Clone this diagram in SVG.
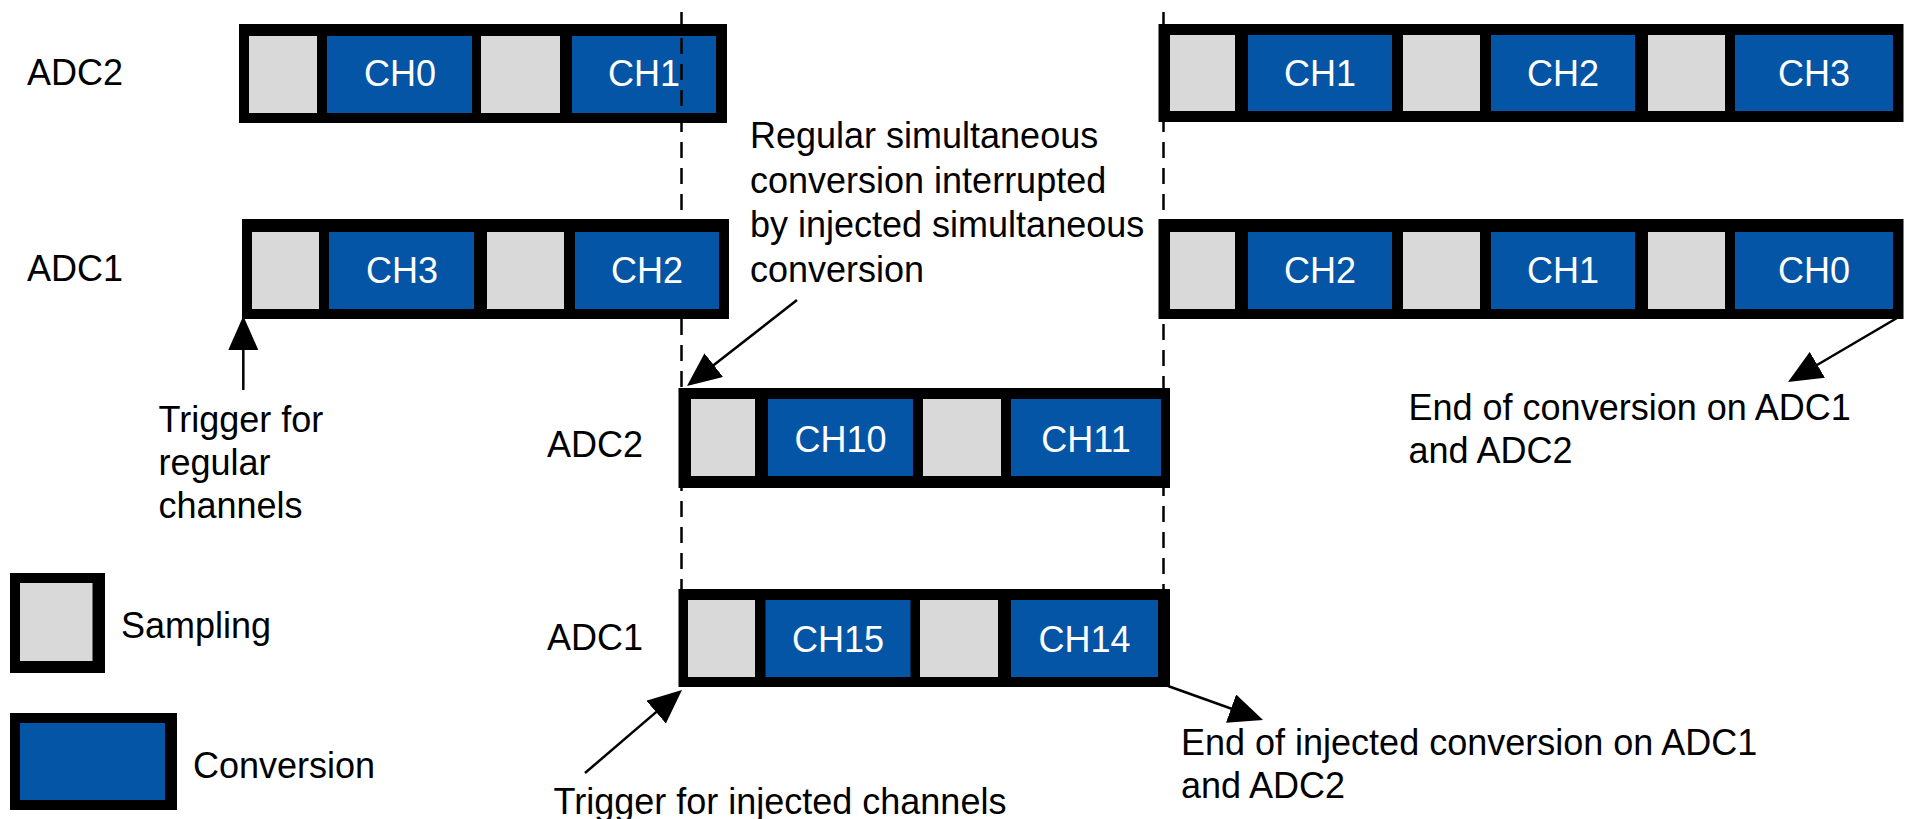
<svg xmlns="http://www.w3.org/2000/svg" width="1908" height="819" viewBox="0 0 1908 819">
  <defs>
    <style>
      .lbl { font-family: "Liberation Sans", Arial, sans-serif; font-size: 36px; fill: #000; }
      .ch { font-family: "Liberation Sans", Arial, sans-serif; font-size: 36px; fill: #fff; text-anchor: middle; }
      .frame { fill: #000; }
      .samp { fill: #d9d9d9; }
      .conv { fill: #0455a5; }
      .dash { stroke: #000; stroke-width: 2.5; stroke-dasharray: 16 10; fill: none; }
      .arrow { stroke: #000; stroke-width: 2.5; fill: none; marker-end: url(#head); }
    </style>
    <marker id="head" viewBox="0 0 34 30" refX="28" refY="15" markerWidth="34" markerHeight="30" markerUnits="userSpaceOnUse" orient="auto">
      <path d="M0,0 L34,15 L0,30 z" fill="#000"/>
    </marker>
  </defs>
  <rect width="1908" height="819" fill="#fff"/>

  <!-- time markers (drawn beneath the sequences) -->
  <g id="guides">
    <line class="dash" x1="681.5" y1="319" x2="681.5" y2="589"/>
    <line class="dash" x1="1163.5" y1="12" x2="1163.5" y2="589"/>
  </g>

  <!-- row labels -->
  <g id="row-labels">
    <text class="lbl" x="27" y="85">ADC2</text>
    <text class="lbl" x="27" y="281">ADC1</text>
    <text class="lbl" x="547" y="457">ADC2</text>
    <text class="lbl" x="547" y="650">ADC1</text>
  </g>

  <!-- regular sequence, ADC2, first part -->
  <g id="adc2-regular-a">
    <rect class="frame" x="239" y="24" width="488" height="99"/>
    <rect class="samp" x="249" y="36" width="68" height="77"/>
    <rect class="conv" x="327" y="36" width="145" height="77"/>
    <rect class="samp" x="481" y="36" width="79" height="77"/>
    <rect class="conv" x="572" y="36" width="144" height="77"/>
    <text class="ch" x="400" y="86">CH0</text>
    <text class="ch" x="644" y="86">CH1</text>
  </g>

  <!-- regular sequence, ADC1, first part -->
  <g id="adc1-regular-a">
    <rect class="frame" x="242" y="219" width="487" height="100"/>
    <rect class="samp" x="252" y="232" width="67" height="77"/>
    <rect class="conv" x="329" y="232" width="145" height="77"/>
    <rect class="samp" x="487" y="232" width="77" height="77"/>
    <rect class="conv" x="575" y="232" width="144" height="77"/>
    <text class="ch" x="402" y="283">CH3</text>
    <text class="ch" x="647" y="283">CH2</text>
  </g>

  <!-- guide crossing the upper sequence -->
  <g id="guide-top">
    <line class="dash" x1="681.5" y1="12" x2="681.5" y2="219"/>
  </g>

  <!-- regular sequence, ADC2, resumed -->
  <g id="adc2-regular-b">
    <rect class="frame" x="1158.5" y="24" width="745" height="98"/>
    <rect class="samp" x="1170" y="35" width="65" height="76"/>
    <rect class="conv" x="1248" y="35" width="144" height="76"/>
    <rect class="samp" x="1403" y="35" width="77" height="76"/>
    <rect class="conv" x="1491" y="35" width="144" height="76"/>
    <rect class="samp" x="1648" y="35" width="77" height="76"/>
    <rect class="conv" x="1735" y="35" width="158" height="76"/>
    <text class="ch" x="1320" y="86">CH1</text>
    <text class="ch" x="1563" y="86">CH2</text>
    <text class="ch" x="1814" y="86">CH3</text>
  </g>

  <!-- regular sequence, ADC1, resumed -->
  <g id="adc1-regular-b">
    <rect class="frame" x="1158.5" y="219" width="745" height="100"/>
    <rect class="samp" x="1170" y="232" width="65" height="77"/>
    <rect class="conv" x="1248" y="232" width="144" height="77"/>
    <rect class="samp" x="1403" y="232" width="77" height="77"/>
    <rect class="conv" x="1491" y="232" width="144" height="77"/>
    <rect class="samp" x="1648" y="232" width="77" height="77"/>
    <rect class="conv" x="1735" y="232" width="158" height="77"/>
    <text class="ch" x="1320" y="283">CH2</text>
    <text class="ch" x="1563" y="283">CH1</text>
    <text class="ch" x="1814" y="283">CH0</text>
  </g>

  <!-- injected sequence, ADC2 -->
  <g id="adc2-injected">
    <rect class="frame" x="678.5" y="388" width="491.5" height="100"/>
    <rect class="samp" x="691" y="399" width="64" height="77"/>
    <rect class="conv" x="768" y="399" width="145" height="77"/>
    <rect class="samp" x="923" y="399" width="78" height="77"/>
    <rect class="conv" x="1011" y="399" width="150" height="77"/>
    <text class="ch" x="840.5" y="452">CH10</text>
    <text class="ch" x="1086" y="452">CH11</text>
  </g>

  <!-- injected sequence, ADC1 -->
  <g id="adc1-injected">
    <rect class="frame" x="678.5" y="589" width="491.5" height="98"/>
    <rect class="samp" x="688" y="600" width="67" height="77"/>
    <rect class="conv" x="765.5" y="600" width="145" height="77"/>
    <rect class="samp" x="920" y="600" width="78" height="77"/>
    <rect class="conv" x="1011" y="600" width="147" height="77"/>
    <text class="ch" x="838" y="652">CH15</text>
    <text class="ch" x="1084.5" y="652">CH14</text>
  </g>

  <!-- legend -->
  <g id="legend-sampling">
    <rect class="frame" x="10" y="573" width="95" height="100"/>
    <rect class="samp" x="20" y="583" width="72.5" height="78"/>
    <text class="lbl" x="121" y="638">Sampling</text>
  </g>
  <g id="legend-conversion">
    <rect class="frame" x="10" y="713" width="167" height="97"/>
    <rect class="conv" x="20" y="723" width="145" height="77"/>
    <text class="lbl" x="193" y="778">Conversion</text>
  </g>

  <!-- annotations -->
  <g id="note-interrupted">
    <text class="lbl" x="750" y="148">Regular simultaneous</text>
    <text class="lbl" x="750" y="192.5">conversion interrupted</text>
    <text class="lbl" x="750" y="237">by injected simultaneous</text>
    <text class="lbl" x="750" y="281.5">conversion</text>
  </g>
  <g id="note-trigger-regular">
    <text class="lbl" x="158.5" y="432">Trigger for</text>
    <text class="lbl" x="158.5" y="475">regular</text>
    <text class="lbl" x="158.5" y="518">channels</text>
  </g>
  <g id="note-eoc">
    <text class="lbl" x="1408.5" y="420">End of conversion on ADC1</text>
    <text class="lbl" x="1408.5" y="463">and ADC2</text>
  </g>
  <g id="note-jeoc">
    <text class="lbl" x="1181" y="755">End of injected conversion on ADC1</text>
    <text class="lbl" x="1181" y="798">and ADC2</text>
  </g>
  <g id="note-trigger-injected">
    <text class="lbl" x="553.5" y="814">Trigger for injected channels</text>
  </g>

  <!-- connectors -->
  <g id="connectors">
    <line class="arrow" x1="243.3" y1="390" x2="243.3" y2="322"/>
    <line class="arrow" x1="797" y1="300" x2="691.7" y2="382.3"/>
    <line class="arrow" x1="585" y1="773" x2="677.4" y2="693.9"/>
    <line class="arrow" x1="1168" y1="686" x2="1257.4" y2="718"/>
    <line class="arrow" x1="1897" y1="318" x2="1793.2" y2="379"/>
  </g>
</svg>
